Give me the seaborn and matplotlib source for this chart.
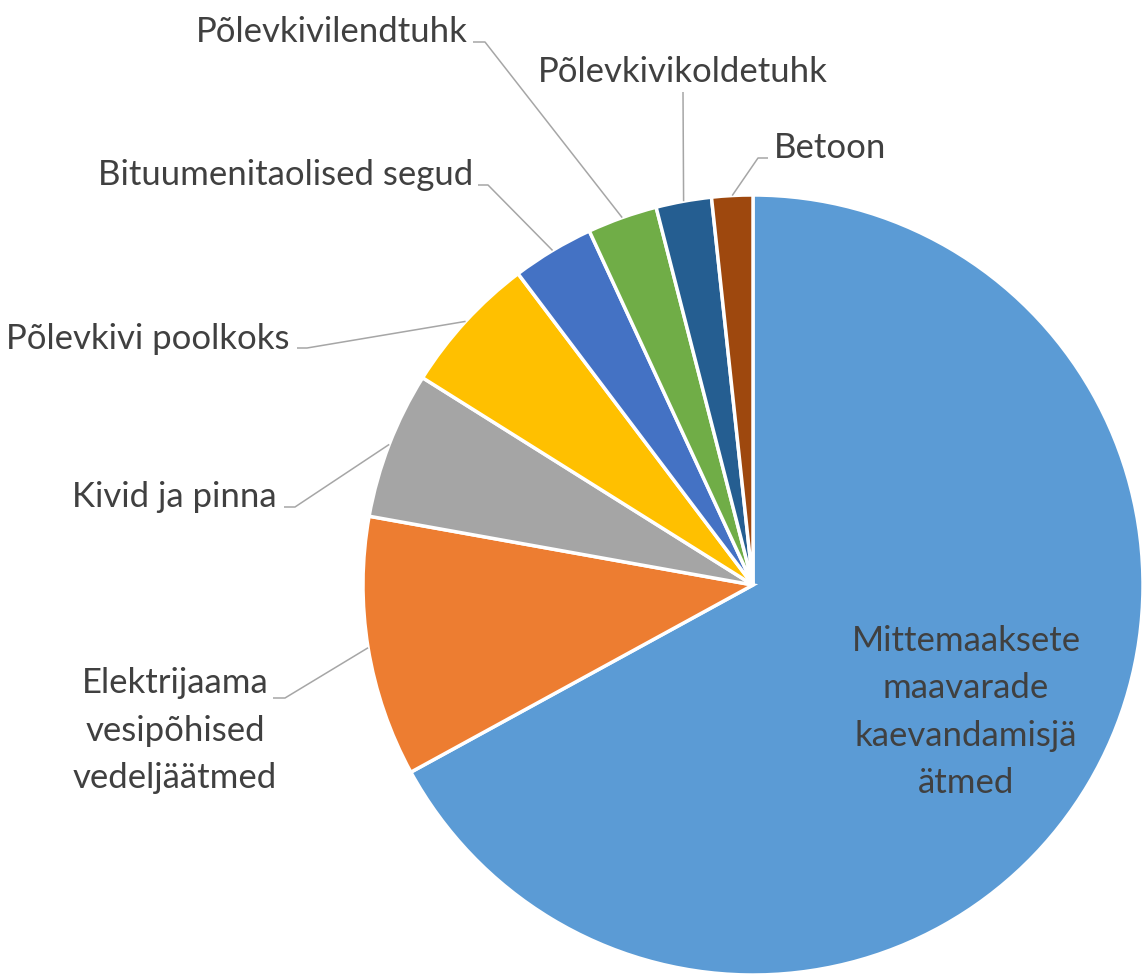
import matplotlib
matplotlib.use("Agg")
import matplotlib.pyplot as plt
import numpy as np
import seaborn as sns

# data (shares of the pie, in percent, clockwise from 12 o'clock)
categories = [
    "Mittemaaksete\nmaavarade\nkaevandamisjä\nätmed",
    "Elektrijaama\nvesipõhised\nvedeljäätmed",
    "Kivid ja pinna",
    "Põlevkivi poolkoks",
    "Bituumenitaolised segud",
    "Põlevkivilendtuhk",
    "Põlevkivikoldetuhk",
    "Betoon",
]
shares = [67.1, 10.8, 6.1, 5.8, 3.4, 2.9, 2.3, 1.7]
slice_colors = ["#5B9BD5", "#ED7D31", "#A5A5A5", "#FFC000",
                "#4472C4", "#70AD47", "#255E91", "#9E480E"]

# layout, in image pixels: (text x, last baseline y, ha, elbow, line end)
W, H = 1142, 976
CX, CY, R = 753, 585, 390
label_layout = [
    (966, 793, "center", None, None),
    (175, 788, "center", (285, 698), (273, 698)),
    (277, 507, "right", (295, 507), (284, 507)),
    (290, 349, "right", (307, 348), (297, 348)),
    (473, 185, "right", (488, 185), (478, 185)),
    (468, 42, "right", (485, 42), (473, 42)),
    (683, 82, "center", (683, 92), (683, 92)),
    (774, 158, "left", (758, 158), (768, 158)),
]


def px(x, y):
    return (x - CX) / R, (CY - y) / R


sns.set_theme(style="white")
plt.rcParams["font.family"] = ["Lato", "DejaVu Sans"]

fig = plt.figure(figsize=(W / 100, H / 100), dpi=100)
ax = fig.add_axes([0, 0, 1, 1])

wedges, _ = ax.pie(
    shares,
    colors=sns.color_palette(slice_colors),
    startangle=90,
    counterclock=False,
    radius=1,
    wedgeprops=dict(edgecolor="white", linewidth=2.5),
)

# pie() resets the limits, so set them afterwards
ax.set_xlim(px(0, 0)[0], px(W, 0)[0])
ax.set_ylim(px(0, H)[1], px(0, 0)[1])
ax.set_aspect("equal")
ax.axis("off")

text_color = "#404040"
line_color = "#A6A6A6"
for w, label, (tx, ty, ha, elbow, end) in zip(wedges, categories, label_layout):
    x, y = px(tx, ty)
    ax.text(x, y, label, ha=ha, va="baseline", fontsize=25,
            color=text_color, linespacing=1.59, multialignment="center")
    if elbow is None:
        continue
    mid = np.deg2rad((w.theta1 + w.theta2) / 2)
    sx, sy = np.cos(mid), np.sin(mid)
    ex, ey = px(*elbow)
    fx, fy = px(*end)
    ax.plot([sx, ex, fx], [sy, ey, fy], color=line_color, lw=1.1,
            solid_capstyle="butt")

fig.savefig("out.png", dpi=100)
